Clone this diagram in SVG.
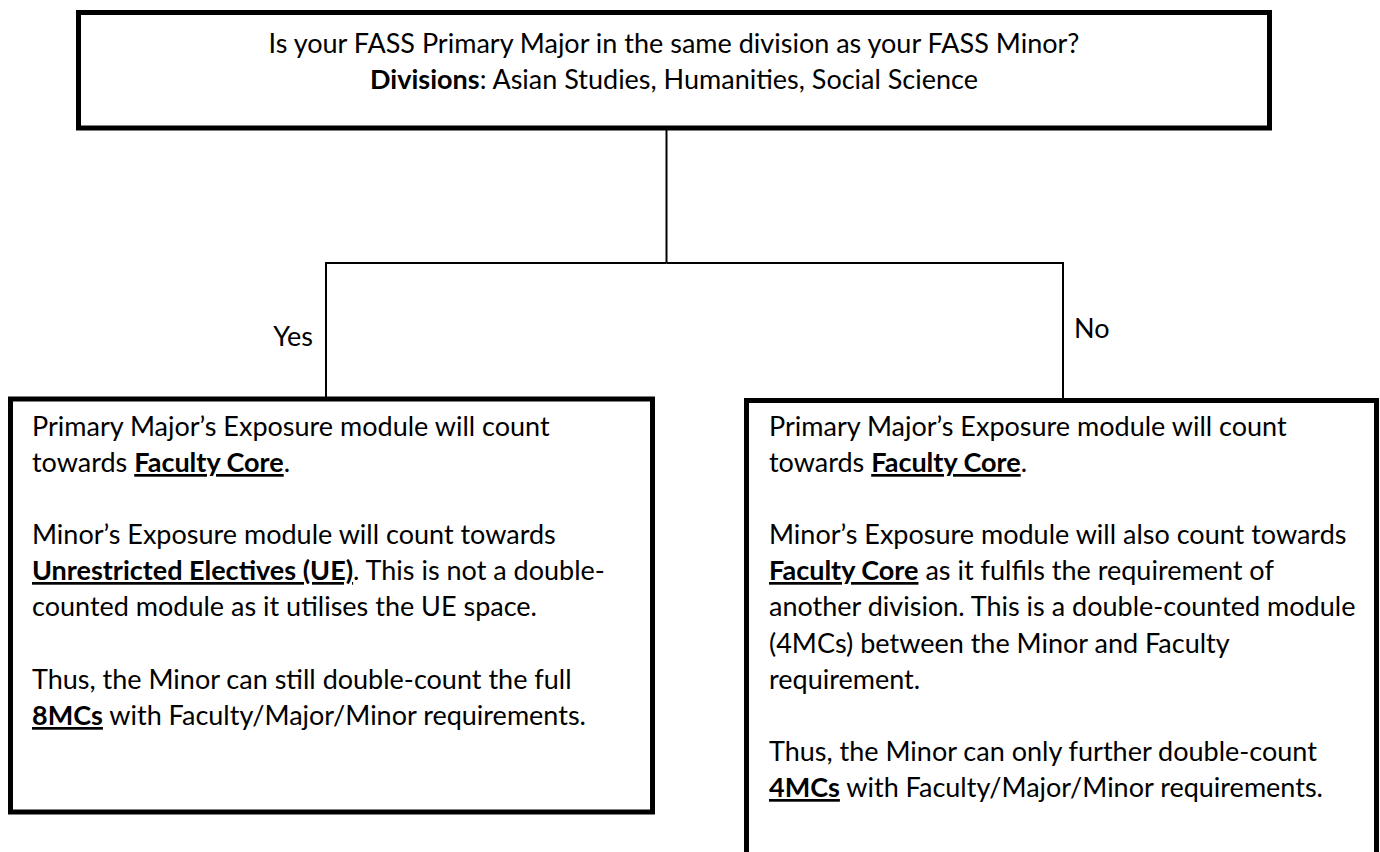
<svg xmlns="http://www.w3.org/2000/svg" width="1380" height="852" viewBox="0 0 1380 852">
<style>
text{font-family:Lato,"Liberation Sans",sans-serif;font-size:27px;fill:#000}
.b{font-weight:bold}
.u{font-weight:bold;text-decoration:underline}
.box{fill:#fff;stroke:#000;stroke-width:5}
.con{fill:none;stroke:#000;stroke-width:2}
</style>
<rect width="1380" height="852" fill="#fff"/>
<g id="connectors">
<path class="con" d="M666.5 128V263"/>
<path class="con" d="M666.5 263H326V399"/>
<path class="con" d="M666.5 263H1063V400"/>
<text x="313" y="346" text-anchor="end">Yes</text>
<text x="1074" y="338">No</text>
</g>
<g id="question">
<rect class="box" x="78.5" y="12.5" width="1191" height="115.5"/>
<text x="674" y="53" text-anchor="middle">Is your FASS Primary Major in the same division as your FASS Minor?</text>
<text x="674" y="89" text-anchor="middle"><tspan class="b">Divisions</tspan>: Asian Studies, Humanities, Social Science</text>
</g>
<g id="yes-box">
<rect class="box" x="10.5" y="399" width="642" height="413"/>
<text x="32" y="436">Primary Major’s Exposure module will count</text>
<text x="32" y="472">towards <tspan class="u">Faculty Core</tspan>.</text>
<text x="32" y="544">Minor’s Exposure module will count towards</text>
<text x="32" y="580"><tspan class="u">Unrestricted Electives (UE)</tspan>. This is not a double-</text>
<text x="32" y="616">counted module as it utilises the UE space.</text>
<text x="32" y="689">Thus, the Minor can still double-count the full</text>
<text x="32" y="725"><tspan class="u">8MCs</tspan> with Faculty/Major/Minor requirements.</text>
</g>
<g id="no-box">
<rect class="box" x="746.5" y="400.5" width="630" height="470"/>
<text x="769" y="436">Primary Major’s Exposure module will count</text>
<text x="769" y="472">towards <tspan class="u">Faculty Core</tspan>.</text>
<text x="769" y="544">Minor’s Exposure module will also count towards</text>
<text x="769" y="580"><tspan class="u">Faculty Core</tspan> as it fulfils the requirement of</text>
<text x="769" y="616">another division. This is a double-counted module</text>
<text x="769" y="653">(4MCs) between the Minor and Faculty</text>
<text x="769" y="689">requirement.</text>
<text x="769" y="761">Thus, the Minor can only further double-count</text>
<text x="769" y="797"><tspan class="u">4MCs</tspan> with Faculty/Major/Minor requirements.</text>
</g>
</svg>
